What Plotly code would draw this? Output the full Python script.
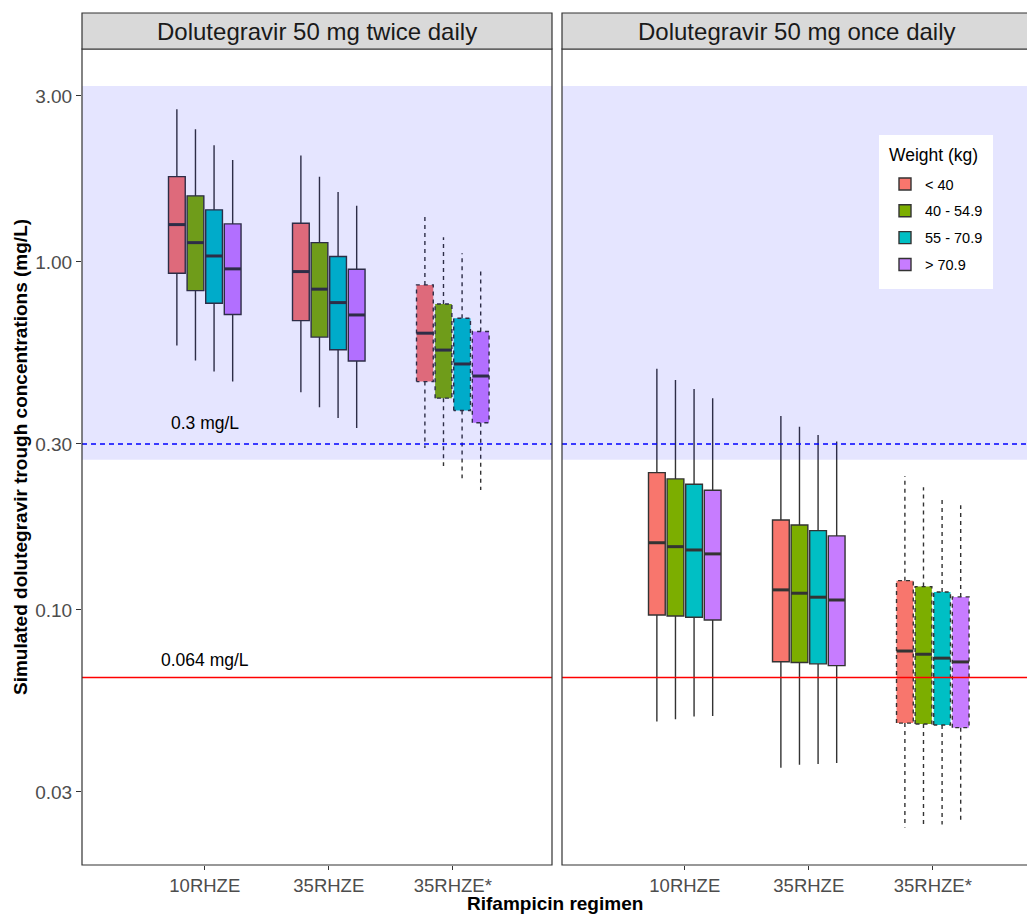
import numpy as np
import plotly.graph_objects as go

# ---- data -------------------------------------------------------------
regimens = ["10RHZE", "35RHZE", "35RHZE*"]
weights = ["< 40", "40 - 54.9", "55 - 70.9", "> 70.9"]
weight_colors = ["#F8766D", "#7CAE00", "#00BFC4", "#C77CFF"]
panel_titles = ["Dolutegravir 50 mg twice daily", "Dolutegravir 50 mg once daily"]

# rows = weight band, columns = regimen
bid_lower = [[0.575, 0.422, 0.292], [0.521, 0.382, 0.259], [0.484, 0.356, 0.239], [0.453, 0.333, 0.221]]
bid_q1 = [[0.928, 0.678, 0.453], [0.827, 0.608, 0.406], [0.761, 0.559, 0.374], [0.706, 0.519, 0.345]]
bid_median = [[1.280, 0.938, 0.624], [1.136, 0.835, 0.558], [1.040, 0.764, 0.509], [0.955, 0.704, 0.470]]
bid_q3 = [[1.758, 1.292, 0.859], [1.548, 1.136, 0.757], [1.411, 1.036, 0.689], [1.286, 0.953, 0.631]]
bid_upper = [[2.747, 2.021, 1.350], [2.406, 1.758, 1.178], [2.164, 1.589, 1.059], [1.964, 1.451, 0.963]]

qd_lower = [[0.0478, 0.0352, 0.0237], [0.0485, 0.0359, 0.0238], [0.0494, 0.0361, 0.0242], [0.0496, 0.0363, 0.0249]]
qd_q1 = [[0.0967, 0.0710, 0.0473], [0.0961, 0.0706, 0.0470], [0.0953, 0.0700, 0.0467], [0.0936, 0.0692, 0.0459]]
qd_median = [[0.156, 0.1142, 0.0762], [0.152, 0.1117, 0.0746], [0.1487, 0.1088, 0.0727], [0.1449, 0.1068, 0.0709]]
qd_q3 = [[0.248, 0.1814, 0.1214], [0.238, 0.1754, 0.1167], [0.2297, 0.169, 0.1126], [0.2208, 0.1632, 0.109]]
qd_upper = [[0.493, 0.361, 0.2427], [0.458, 0.336, 0.2253], [0.431, 0.318, 0.2071], [0.406, 0.305, 0.200]]

target_range = [0.27, 3.2]      # shaded concentration window
threshold_high = 0.3            # dashed blue reference
threshold_low = 0.064           # solid red reference
dashed_regimens = ["35RHZE*"]

# ---- styling ----------------------------------------------------------
FONT = "Liberation Sans, Arial, sans-serif"
OUTLINE = "#333333"
BOX_STEP = 0.15      # dodge spacing between weight bands
BOX_W = 0.135        # box width in category units
W, H = 1027, 915
ML, MR, MT, MB = 82, 0, 49, 50
PW = W - ML - MR
PH = H - MT - MB


def px_x(p):
    """pixel column -> paper x"""
    return (p - ML) / PW


def px_y(p):
    """pixel row -> paper y"""
    return (H - MB - p) / PH


fig = go.Figure()

panels = [
    ("x", "y", bid_lower, bid_q1, bid_median, bid_q3, bid_upper),
    ("x2", "y2", qd_lower, qd_q1, qd_median, qd_q3, qd_upper),
]

for p, (xa, ya, lo, q1, med, q3, hi) in enumerate(panels):
    for w, wname in enumerate(weights):
        pos = [r + 1 + (w - 1.5) * BOX_STEP for r in range(len(regimens))]
        solid = [r for r, name in enumerate(regimens) if name not in dashed_regimens]
        dashed = [r for r, name in enumerate(regimens) if name in dashed_regimens]

        fig.add_trace(go.Box(
            x=[pos[r] for r in solid],
            q1=[q1[w][r] for r in solid], median=[med[w][r] for r in solid],
            q3=[q3[w][r] for r in solid], lowerfence=[lo[w][r] for r in solid],
            upperfence=[hi[w][r] for r in solid],
            fillcolor=weight_colors[w], line=dict(color=OUTLINE, width=1.4),
            whiskerwidth=0, width=BOX_W, boxpoints=False,
            name=wname, legendgroup=wname, showlegend=(p == 0),
            xaxis=xa, yaxis=ya, hoverinfo="skip",
        ))
        # dashed regimen: fill from a box trace, outline drawn as dashed path
        fig.add_trace(go.Box(
            x=[pos[r] for r in dashed],
            q1=[q1[w][r] for r in dashed], median=[med[w][r] for r in dashed],
            q3=[q3[w][r] for r in dashed], lowerfence=[q1[w][r] for r in dashed],
            upperfence=[q3[w][r] for r in dashed],
            fillcolor=weight_colors[w], line=dict(color="rgba(0,0,0,0)", width=0),
            whiskerwidth=0, width=BOX_W, boxpoints=False,
            name=wname, legendgroup=wname, showlegend=False,
            xaxis=xa, yaxis=ya, hoverinfo="skip",
        ))
        px, py = [], []
        for r in dashed:
            c, h = pos[r], BOX_W / 2
            px += [c - h, c - h, c + h, c + h, c - h, None, c, c, None, c, c, None]
            py += [q1[w][r], q3[w][r], q3[w][r], q1[w][r], q1[w][r], None,
                   q3[w][r], hi[w][r], None, q1[w][r], lo[w][r], None]
        fig.add_trace(go.Scatter(
            x=px, y=py, mode="lines", line=dict(color=OUTLINE, width=1.4, dash="4px,4px"),
            showlegend=False, xaxis=xa, yaxis=ya, hoverinfo="skip",
        ))
        # thicker median bars
        mx, my = [], []
        for r in range(len(regimens)):
            mx += [pos[r] - BOX_W / 2, pos[r] + BOX_W / 2, None]
            my += [med[w][r], med[w][r], None]
        fig.add_trace(go.Scatter(
            x=mx, y=my, mode="lines", line=dict(color=OUTLINE, width=3),
            showlegend=False, xaxis=xa, yaxis=ya, hoverinfo="skip",
        ))

# ---- axes -------------------------------------------------------------
y_range = [np.log10(0.0185), np.log10(4.09)]
y_ticks = [0.03, 0.1, 0.3, 1, 3]
y_ticktext = ["0.03", "0.10", "0.30", "1.00", "3.00"]
left_dom = [0, 470 / PW]
right_dom = [480 / PW, 1]
x_left_range = [0.01, 3.8]
unit_px = 470 / (x_left_range[1] - x_left_range[0])
x_right_range = [0.01, 0.01 + (PW - 480) / unit_px]

xaxis_common = dict(
    tickmode="array", tickvals=[1, 2, 3], ticktext=regimens,
    ticks="outside", ticklen=4, tickcolor=OUTLINE, tickwidth=1,
    tickfont=dict(family=FONT, size=18.5, color="#4D4D4D"),
    showgrid=False, zeroline=False, showline=False,
)
fig.update_layout(
    xaxis=dict(domain=left_dom, range=x_left_range, anchor="y", **xaxis_common),
    xaxis2=dict(domain=right_dom, range=x_right_range, anchor="y2", **xaxis_common),
    yaxis=dict(type="log", range=y_range, tickmode="array", tickvals=y_ticks,
               ticktext=y_ticktext, ticks="outside", ticklen=5, tickcolor=OUTLINE,
               tickfont=dict(family=FONT, size=19, color="#4D4D4D"),
               showgrid=False, zeroline=False, showline=False, anchor="x"),
    yaxis2=dict(type="log", range=y_range, matches="y", showticklabels=False,
                ticks="", showgrid=False, zeroline=False, showline=False, anchor="x2"),
)

# ---- reference band, threshold lines, panel frames ----------------------
shapes = []
for xa, ya in [("x", "y"), ("x2", "y2")]:
    shapes.append(dict(type="rect", xref=f"{xa} domain", yref=ya, x0=0, x1=1,
                       y0=target_range[0], y1=target_range[1],
                       fillcolor="rgba(0,0,255,0.1)", line=dict(width=0), layer="above"))
    shapes.append(dict(type="line", xref=f"{xa} domain", yref=ya, x0=0, x1=1,
                       y0=threshold_high, y1=threshold_high,
                       line=dict(color="#0000FF", width=1.5, dash="5px,4px"), layer="above"))
    shapes.append(dict(type="line", xref=f"{xa} domain", yref=ya, x0=0, x1=1,
                       y0=threshold_low, y1=threshold_low,
                       line=dict(color="#FF0000", width=1.5), layer="above"))

# panel frames and facet strips (paper coordinates)
strip_y0, strip_y1 = 1.0, px_y(13)
for dom in (left_dom, right_dom):
    x1 = dom[1] if dom[1] < 1 else 1.02
    shapes.append(dict(type="rect", xref="paper", yref="paper", x0=dom[0], x1=x1,
                       y0=0, y1=1, line=dict(color=OUTLINE, width=1.2),
                       fillcolor="rgba(0,0,0,0)", layer="above"))
    shapes.append(dict(type="rect", xref="paper", yref="paper", x0=dom[0], x1=x1,
                       y0=strip_y0, y1=strip_y1, line=dict(color=OUTLINE, width=1.2),
                       fillcolor="#D9D9D9", layer="above"))

# legend panel background
shapes.append(dict(type="rect", xref="paper", yref="paper",
                   x0=px_x(879), x1=px_x(993), y0=px_y(289), y1=px_y(135),
                   fillcolor="white", line=dict(width=0), layer="above"))

annotations = []
for dom, title in [(left_dom, panel_titles[0]), ([right_dom[0], right_dom[0] + 470 / PW], panel_titles[1])]:
    annotations.append(dict(text=title, xref="paper", yref="paper",
                            x=(dom[0] + dom[1]) / 2, y=(strip_y0 + strip_y1) / 2,
                            xanchor="center", yanchor="middle", showarrow=False,
                            font=dict(family=FONT, size=24, color="#1A1A1A")))

annotations.append(dict(text=f"{threshold_high:g} mg/L", xref="x", yref="y",
                        x=1, y=np.log10(0.345), showarrow=False,
                        xanchor="center", yanchor="middle",
                        font=dict(family=FONT, size=17.5, color="#000000")))
annotations.append(dict(text=f"{threshold_low:g} mg/L", xref="x", yref="y",
                        x=1, y=np.log10(0.072), showarrow=False,
                        xanchor="center", yanchor="middle",
                        font=dict(family=FONT, size=17.5, color="#000000")))

annotations.append(dict(text="<b>Simulated dolutegravir trough concentrations (mg/L)</b>",
                        xref="paper", yref="paper", x=px_x(20), y=0.5,
                        textangle=-90, showarrow=False, xanchor="center", yanchor="middle",
                        font=dict(family=FONT, size=19, color="#000000")))
annotations.append(dict(text="<b>Rifampicin regimen</b>",
                        xref="paper", yref="paper", x=px_x(555), y=px_y(903),
                        showarrow=False, xanchor="center", yanchor="middle",
                        font=dict(family=FONT, size=19, color="#000000")))
annotations.append(dict(text="Weight (kg)", xref="paper", yref="paper",
                        x=px_x(887), y=px_y(155), showarrow=False,
                        xanchor="left", yanchor="middle",
                        font=dict(family=FONT, size=17.5, color="#000000")))

fig.update_layout(
    width=W, height=H, autosize=False,
    margin=dict(l=ML, r=MR, t=MT, b=MB, pad=0),
    paper_bgcolor="white", plot_bgcolor="white",
    boxmode="overlay",
    shapes=shapes, annotations=annotations,
    showlegend=True,
    legend=dict(
        font=dict(family=FONT, size=14.5, color="#000000"),
        x=px_x(885), y=px_y(168), xanchor="left", yanchor="top",
        bgcolor="rgba(0,0,0,0)", borderwidth=0, tracegroupgap=5, itemwidth=30,
    ),
)

fig.write_html("out.html")
